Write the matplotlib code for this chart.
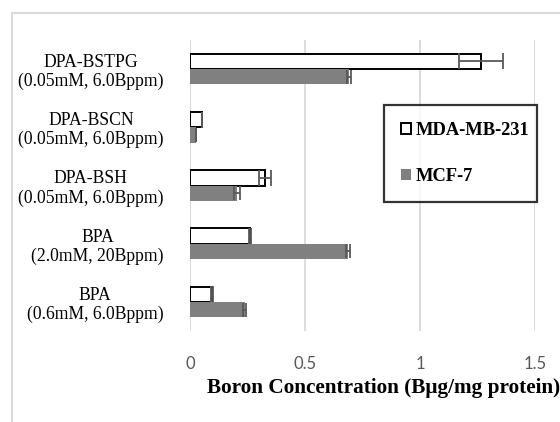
import matplotlib
matplotlib.use("Agg")
import matplotlib.pyplot as plt
from matplotlib.lines import Line2D
import numpy as np

# boron uptake per cell line
categories = [
    "DPA-BSTPG\n(0.05mM, 6.0Bppm)",
    "DPA-BSCN\n(0.05mM, 6.0Bppm)",
    "DPA-BSH\n(0.05mM, 6.0Bppm)",
    "BPA\n(2.0mM, 20Bppm)",
    "BPA\n(0.6mM, 6.0Bppm)",
]
mda_values = [1.267, 0.051, 0.326, 0.261, 0.097]
mda_errors = [0.096, 0.0, 0.027, 0.005, 0.005]
mcf_values = [0.690, 0.027, 0.203, 0.686, 0.237]
mcf_errors = [0.008, 0.0, 0.013, 0.008, 0.005]
series_names = ["MDA-MB-231", "MCF-7"]
x_ticks = [0, 0.5, 1, 1.5]
x_tick_labels = ["0", "0.5", "1", "1.5"]

serif = "Liberation Serif"

fig = plt.figure(figsize=(5.6, 4.22), dpi=100)
W, H = 560, 422

# light grey frame (left and top edges, the rest runs off the image)
fx, fy = 12 / W, 1 - 13 / H
fig.lines.append(Line2D([fx, fx], [0, fy], transform=fig.transFigure,
                        color="#d9d9d9", lw=1.4))
fig.lines.append(Line2D([fx, 1], [fy, fy], transform=fig.transFigure,
                        color="#d9d9d9", lw=1.4))

ax = fig.add_axes([190 / W, 1 - 331 / H, 345 / W, 291 / H])

y = np.arange(len(categories))
h = 0.263

ax.barh(y - h / 2, mda_values, height=h, color="white", edgecolor="black",
        linewidth=1.4, label=series_names[0], zorder=3)
ax.barh(y + h / 2, mcf_values, height=h, color="#808080", edgecolor="none",
        label=series_names[1], zorder=3)
ax.errorbar(mda_values, y - h / 2, xerr=mda_errors, fmt="none",
            ecolor="#595959", elinewidth=1.3, capsize=6, capthick=1.3, zorder=4)
ax.errorbar(mcf_values, y + h / 2, xerr=mcf_errors, fmt="none",
            ecolor="#595959", elinewidth=1.3, capsize=5, capthick=1.3, zorder=4)

ax.set_xlim(0, 1.5)
ax.set_ylim(len(categories) - 0.5, -0.5)
ax.set_xticks(x_ticks)
ax.set_xticklabels(x_tick_labels, fontfamily="Lato", fontsize=12, color="#595959")
ax.set_yticks(y)
ax.set_yticklabels(categories, fontfamily=serif, fontsize=12.7,
                   multialignment="center", linespacing=1.15)
ax.tick_params(axis="y", length=0, pad=19)
ax.tick_params(axis="x", length=0, pad=18)

for s in ax.spines.values():
    s.set_visible(False)
ax.grid(axis="x", color="#d9d9d9", lw=1.3, zorder=0)
ax.set_axisbelow(True)

fig.text(207 / W, 1 - 388 / H, "Boron Concentration (B\u03bcg/mg protein)",
         fontfamily=serif, fontweight="bold", fontsize=15.3,
         ha="left", va="center")

leg = ax.legend(loc="upper left",
                bbox_to_anchor=((384 - 190) / 345, (331 - 196) / 291,
                                (537 - 384) / 345, (196 - 105) / 291),
                mode="expand", frameon=True, fancybox=False, borderaxespad=0,
                prop={"family": serif, "weight": "bold", "size": 13.3},
                handlelength=0.55, handleheight=0.55, handletextpad=0.25,
                labelspacing=1.6, borderpad=0.9)
leg.get_frame().set_edgecolor("black")
leg.get_frame().set_linewidth(1.6)
leg.set_zorder(5)

fig.savefig("out.png", dpi=100)
